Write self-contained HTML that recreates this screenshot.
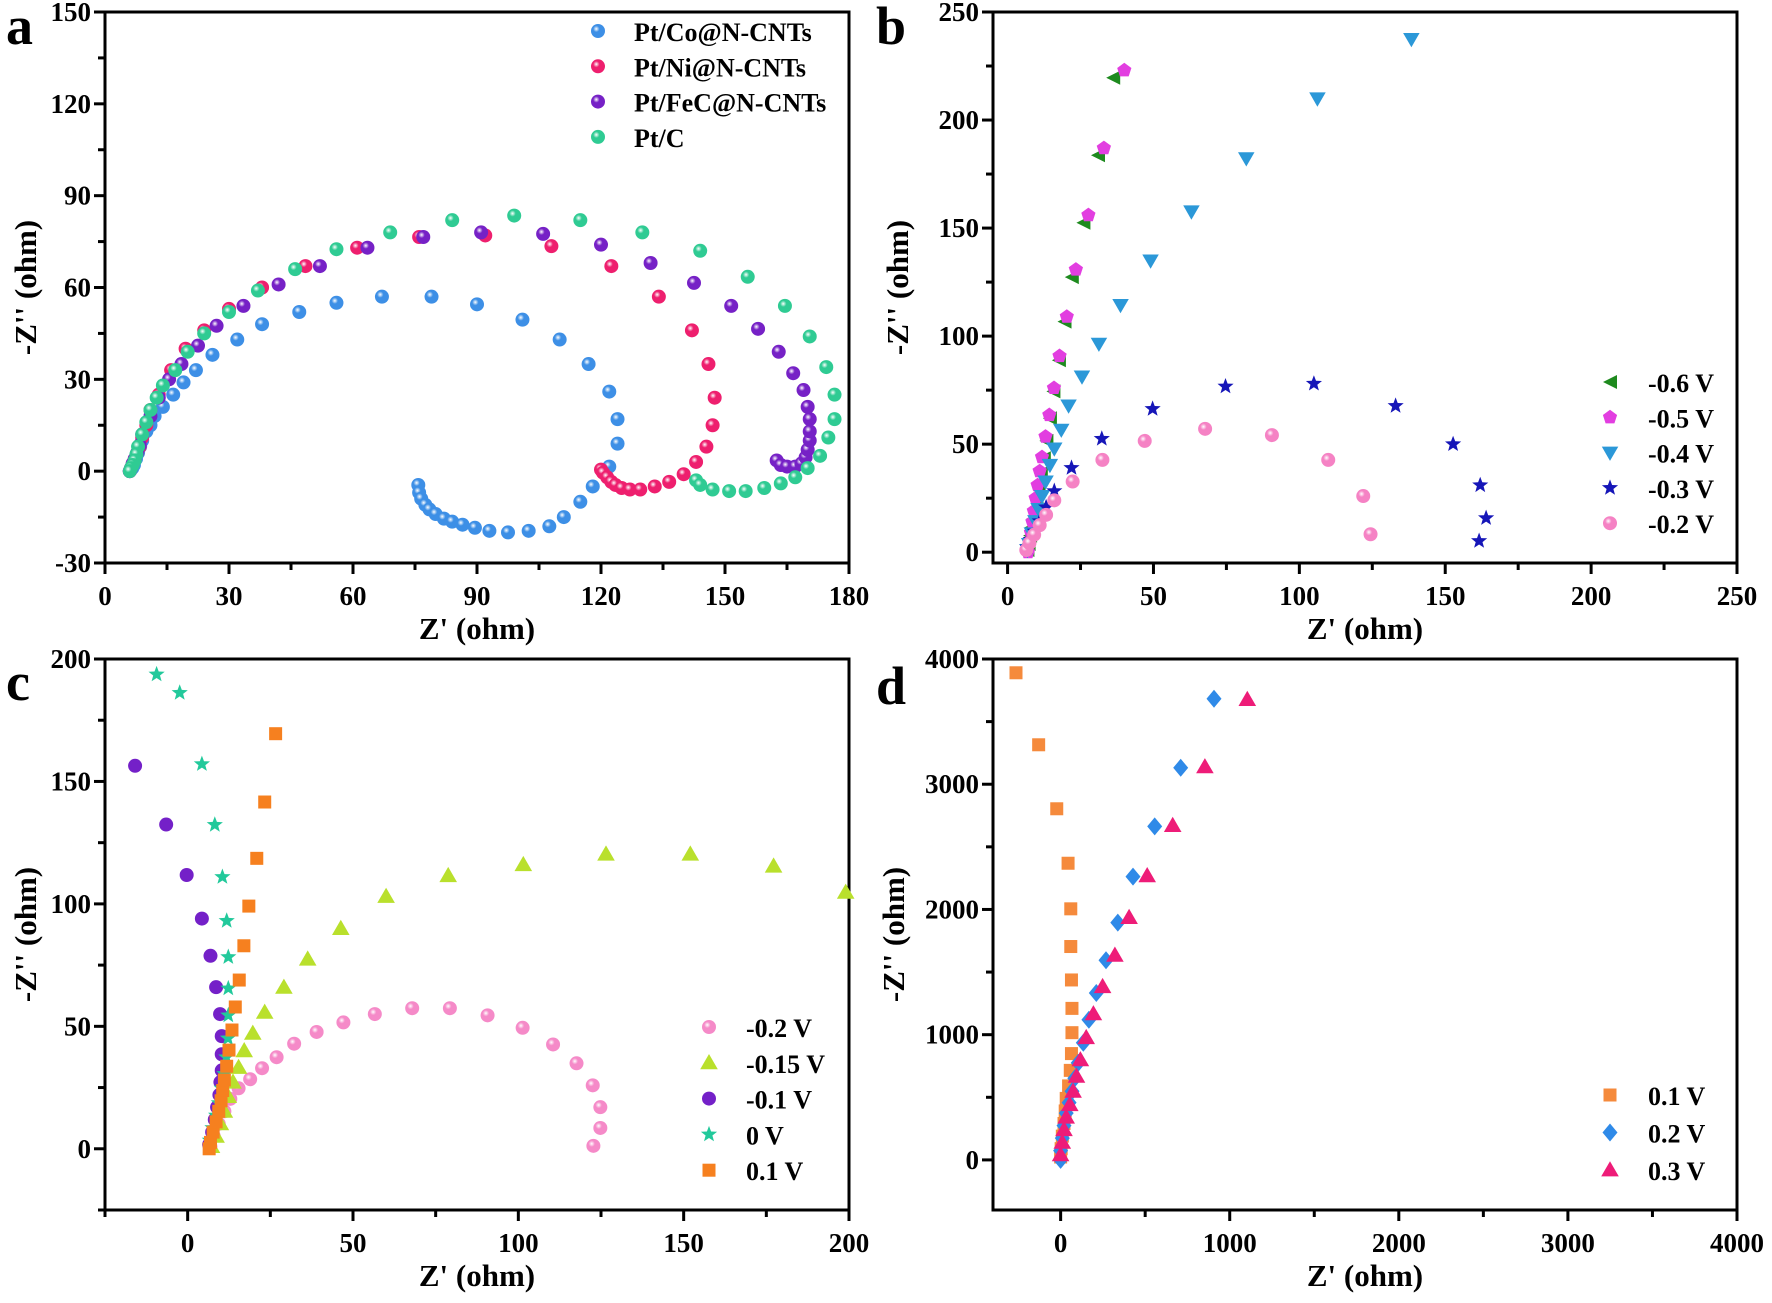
<!DOCTYPE html>
<html><head><meta charset="utf-8">
<style>
html,body{margin:0;padding:0;background:#fff;}
svg{display:block;font-family:"Liberation Serif",serif;font-weight:bold;}
</style></head>
<body>
<svg id="fig" width="1772" height="1303" viewBox="0 0 1772 1303" xmlns="http://www.w3.org/2000/svg">
<defs>
</defs>
</svg>
<script>
// ---------- Panel a data ----------
const aCoX=[6,6.3,6.6,7,7.5,8,8.5,9,10,11,12,14,16.5,19,22,26,32,38,47,56,67,79,90,101,110,117,122,124,124,122,118,115,111,107.5,102.5,97.5,93,89.5,86.5,84,82,80,78.5,77.5,76.5,76,75.8];
const aCoY=[0,0.5,1,2,4,6,8,10,13,15,18,21,25,29,33,38,43,48,52,55,57,57,54.5,49.5,43,35,26,17,9,1.5,-5,-10,-15,-18,-19.5,-20,-19.5,-18.5,-17.5,-16.5,-15.5,-14,-12.5,-11,-9,-7,-4.5];
const aNiX=[6,6.3,6.7,7.2,7.8,8.4,9,10,11,13,16,19.5,24,30,38,48.5,61,76,92,108,122.5,134,142,146,147.5,147,145.5,143,140,136.5,133,129.5,127,125,123.5,122.5,121.5,120.5,120];
const aNiY=[0,1,2.5,4,6,8,11,15,20,25,33,40,46,53,60,67,73,76.5,77,73.5,67,57,46,35,24,15,8,3,-1,-3.5,-5,-6,-6,-5.5,-4.5,-3.5,-2,-0.5,0.5];
const aFeX=[6,6.3,6.7,7.2,7.8,8.4,9,11,13,15.5,18.5,22.5,27,33.5,42,52,63.5,77,91,106,120,132,142.5,151.5,158,163,166.5,169,170,170.5,170.5,170.5,170,169.5,168.5,167,165,163.5,162.5];
const aFeY=[0,1,2.5,4,6,8.5,12,18,24,30,35,41,47.5,54,61,67,73,76.5,78,77.5,74,68,61.5,54,46.5,39,32,26.5,21,17,13,10,7,4.5,2.5,1.5,1.5,2,3.5];
const aPtX=[6,6.3,6.7,7.2,7.6,8,9,10,11,12.5,14,17,20,24,30,37,46,56,69,84,99,115,130,144,155.5,164.5,170.5,174.5,176.5,176.5,175,173,170,167,163.5,159.5,155,151,147,144,143];
const aPtY=[0,1,2,3.5,5.5,8,12,16,20,24,28,33,39,45,52,59,66,72.5,78,82,83.5,82,78,72,63.5,54,44,34,25,17,11,5,1,-2,-4,-5.5,-6.5,-6.5,-6,-4.5,-3];
const aXTicks=[0,30,60,90,120,150,180];
const aYTicks=[-30,0,30,60,90,120,150];
// ---------- Panel b data ----------
const b6X=[36.2,31,26,22,19.5,17.6,15.7,14.5,13.3,12.4,11.4,10.6,9.9,9.1,8.7,8.3,7.7,7.2,6.8];
const b6Y=[219.6,183.7,152.5,127.3,106.7,88.8,74.4,62,51.5,43.5,36.5,30.8,25,20,15.4,11.5,7.7,3.8,1];
const b5X=[40,33,27.7,23.4,20.3,17.8,15.9,14.3,13,11.8,11,10.3,9.6,9,8.5,8,7.5,7];
const b5Y=[223,187,156,130.8,109,90.8,76,63.5,53.5,44,37.5,31,25,19,14,9,4.5,0];
const b4X=[138.4,106.2,81.8,63,49,38.7,31.3,25.5,20.9,18.4,16,14.5,13,11.8,10.6,9.5,8.3,7.4,6.8];
const b4Y=[237.5,210,182.3,157.7,135,114.4,96.5,81.3,67.9,56.7,48,40.4,32.7,26,20,14.4,8.7,3.8,1];
const b3X=[161.6,164,162,152.7,133,105,74.7,49.7,32.3,21.9,16,13.2,11,9.3,7.9,6.8];
const b3Y=[5.2,15.8,31,50,67.7,78,76.7,66.3,52.5,39,28.3,20.8,14.4,9.6,5.8,2.3];
const b2X=[124.4,121.9,109.9,90.6,67.7,47,32.5,22.3,16,13.2,11,9.1,7.5,6.4];
const b2Y=[8.3,26,42.7,54.2,57.1,51.5,42.7,32.7,24,17.3,12.5,8.1,4.2,1];
const bXTicks=[0,50,100,150,200,250];
const bYTicks=[0,50,100,150,200,250];
// ---------- Panel c data ----------
const c02X=[122.7,124.8,124.8,122.5,117.6,110.5,101.3,90.7,79.3,67.9,56.6,47.1,39,32.2,26.9,22.5,18.9,15.4,12.9,11.1,9.4,7.9,6.9];
const c02Y=[1.2,8.5,17,25.9,34.9,42.6,49.4,54.5,57.4,57.4,55,51.6,47.7,42.9,37.4,32.9,28.4,24.7,20.4,15.3,10.2,5.1,0.9];
const c015X=[199,177.2,152,126.5,101.5,78.8,60,46.3,36.3,29.1,23.3,19.7,17.1,15.4,13.7,12.3,11.1,9.9,8.6,7.2];
const c015Y=[104.7,115.4,120.3,120.3,116,111.5,103,89.9,77.4,65.9,55.7,47.1,40,33.2,27.2,21.3,15.3,10.2,5.1,0.9];
const c01X=[-15.9,-6.5,-0.3,4.3,6.9,8.6,9.8,10.3,10.3,10.3,9.9,9.6,8.9,8.2,7.4,6.5];
const c01Y=[156.4,132.4,111.8,94,78.8,66,55,46,38.6,32,27.2,22,17,11.9,6.8,1.7];
const c0X=[-9.4,-2.4,4.3,8.2,10.5,11.8,12.3,12.3,12.3,12.2,11.7,11.1,10.3,9.4,8.6,7.5,6.7];
const c0Y=[193.7,186.2,157.1,132.3,111,93.1,78.3,65.5,54.5,45.1,37.4,30.6,24.7,18.7,13.6,8.5,3.4];
const cp1X=[26.6,23.3,20.9,18.5,17,15.6,14.4,13.4,12.5,11.8,11.1,10.6,10.1,9.4,8.6,7.7,6.9,6.5];
const cp1Y=[169.5,141.6,118.6,99.1,82.9,68.9,57.9,48.5,40.3,33.7,28.1,23.8,19.6,15.3,11,6.8,2.6,0];
const cXTicks=[0,50,100,150,200];
const cYTicks=[0,50,100,150,200];
// ---------- Panel d data ----------
const d1X=[-264,-130,-23,44,60,60,64,67,67,64,57,47,33,27,20,10,3,0];
const d1Y=[3890,3315,2804,2369,2005,1704,1437,1210,1016,849,715,591,491,391,291,190,90,23];
const d2X=[907,710,556,428,338,268,211,167,134,104,84,67,50,33,20,10,0,0];
const d2Y=[3682,3131,2663,2262,1895,1594,1333,1119,936,775,652,548,458,374,274,174,74,0];
const d3X=[1104,853,663,512,405,321,248,194,151,117,94,74,54,33,20,10,0];
const d3Y=[3676,3138,2670,2269,1935,1634,1383,1166,976,799,668,548,441,341,241,140,40];
const dXTicks=[0,1000,2000,3000,4000];
const dYTicks=[0,1000,2000,3000,4000];

const NS="http://www.w3.org/2000/svg";
const svg=document.getElementById('fig');
const defs=svg.querySelector('defs');
function mk(tag,attrs,parent){const e=document.createElementNS(NS,tag);for(const k in attrs)e.setAttribute(k,attrs[k]);(parent||svg).appendChild(e);return e;}
const gradCache={};
function sphere(color){
  if(gradCache[color])return gradCache[color];
  const id='g'+color.slice(1);
  const g=mk('radialGradient',{id:id,cx:'0.38',cy:'0.35',r:'0.65'},defs);
  mk('stop',{offset:'0',  'stop-color':'#ffffff'},g);
  mk('stop',{offset:'0.35','stop-color':color},g);
  mk('stop',{offset:'1','stop-color':color},g);
  gradCache[color]='url(#'+id+')';return gradCache[color];
}
function marker(g,shape,x,y,color,s){
  s=s||7;let e;
  if(shape==='sphere'){e=mk('circle',{cx:x,cy:y,r:s,fill:sphere(color)},g);}
  else if(shape==='circle'){e=mk('circle',{cx:x,cy:y,r:s,fill:color},g);}
  else if(shape==='square'){e=mk('rect',{x:x-s,y:y-s,width:2*s,height:2*s,fill:color},g);}
  else {
    let pts=[];
    if(shape==='ltri')pts=[[-s,0],[s,-s],[s,s]];
    else if(shape==='dtri')pts=[[-s*1.1,-s*0.8],[s*1.1,-s*0.8],[0,s*1.1]];
    else if(shape==='utri')pts=[[-s*1.1,s*0.8],[s*1.1,s*0.8],[0,-s*1.1]];
    else if(shape==='diamond')pts=[[0,-s*1.2],[s,0],[0,s*1.2],[-s,0]];
    else if(shape==='pent'){for(let i=0;i<5;i++){const a=-Math.PI/2+i*2*Math.PI/5;pts.push([s*Math.cos(a),s*Math.sin(a)]);}}
    else if(shape==='star'){for(let i=0;i<10;i++){const a=-Math.PI/2+i*Math.PI/5;const r=i%2?s*0.42:s;pts.push([r*Math.cos(a),r*Math.sin(a)]);}}
    e=mk('polygon',{points:pts.map(p=>(x+p[0]).toFixed(1)+','+(y+p[1]).toFixed(1)).join(' '),fill:color},g);
  }
  return e;
}
function panel(cfg){
  const g=mk('g',{});
  
  
  const L=cfg.box[0],T=cfg.box[1],R=cfg.box[2],B=cfg.box[3];
  const sx=v=>L+(v-cfg.xr[0])/(cfg.xr[1]-cfg.xr[0])*(R-L);
  const sy=v=>B-(v-cfg.yr[0])/(cfg.yr[1]-cfg.yr[0])*(B-T);
  const tg=mk('g',{stroke:'#000','stroke-width':3},g);
  const xt=cfg.xt,yt=cfg.yt;
  const xstep=xt[1]-xt[0],ystep=yt[1]-yt[0];
  for(let v=xt[0]-xstep/2;v<=cfg.xr[1]+1e-9;v+=xstep/2){
    if(v<cfg.xr[0]-1e-9)continue;
    const major=xt.some(t=>Math.abs(t-v)<1e-6);
    mk('line',{x1:sx(v),x2:sx(v),y1:B,y2:B+(major?11:7)},tg);
  }
  for(let v=yt[0]-ystep/2;v<=cfg.yr[1]+1e-9;v+=ystep/2){
    if(v<cfg.yr[0]-1e-9)continue;
    const major=yt.some(t=>Math.abs(t-v)<1e-6);
    mk('line',{y1:sy(v),y2:sy(v),x1:L,x2:L-(major?11:7)},tg);
  }
  xt.forEach(v=>{const t=mk('text',{x:sx(v),y:B+42,'font-size':27,'text-anchor':'middle'},g);t.textContent=v;
    
    });
  yt.forEach(v=>{const t=mk('text',{x:L-14,y:sy(v)+9,'font-size':27,'text-anchor':'end'},g);t.textContent=v;
    
    });
  const frame=mk('rect',{x:L,y:T,width:R-L,height:B-T,fill:'none',stroke:'#000','stroke-width':3},g);
  
  
  cfg.series.forEach(s=>{
    const sg=mk('g',{},g);
    
    
    for(let i=s.x.length-1;i>=0;i--){
      const m=marker(sg,s.shape,sx(s.x[i]),sy(s.y[i]),s.color,s.size);
      
      
    }
  });
  const lg=mk('g',{},g);
  
  
  cfg.series.forEach((s,i)=>{
    const y=cfg.leg[1]+i*cfg.leg[3];
    const e=mk('g',{},lg);
    
    
    marker(e,s.shape,cfg.leg[0],y,s.color,s.size);
    const t=mk('text',{x:cfg.leg[2],y:y+10,'font-size':26},e);t.textContent=s.label;
  });
  const xtitle=mk('text',{x:(L+R)/2,y:B+76,'font-size':31,'text-anchor':'middle'},g);
  xtitle.textContent="Z' (ohm)";
  
  
  const cy=(T+B)/2, cx=cfg.ytx;
  const ytitle=mk('text',{x:cx,y:cy,'font-size':31,'text-anchor':'middle',transform:'rotate(-90 '+cx+' '+cy+')'},g);
  ytitle.textContent="-Z'' (ohm)";
  
  
  const pl=mk('text',{x:cfg.lab[0],y:cfg.lab[1],'font-size':54},g);
  pl.textContent=cfg.letter;
  
  
}
panel({name:'panel-a',letter:'a',lab:[6,44],box:[105,12,849,563],xr:[0,180],yr:[-30,150],xt:aXTicks,yt:aYTicks,ytx:36,
  leg:[598,31,634,35.3],
  series:[
    {label:'Pt/Co@N-CNTs',x:aCoX,y:aCoY,shape:'sphere',color:'#3d8fe6',size:7},
    {label:'Pt/Ni@N-CNTs',x:aNiX,y:aNiY,shape:'sphere',color:'#ee1f6e',size:7},
    {label:'Pt/FeC@N-CNTs',x:aFeX,y:aFeY,shape:'sphere',color:'#7621c6',size:7},
    {label:'Pt/C',x:aPtX,y:aPtY,shape:'sphere',color:'#2fcb93',size:7}]});
panel({name:'panel-b',letter:'b',lab:[876,44],box:[993,12,1737,563],xr:[-5,250],yr:[-5,250],xt:bXTicks,yt:bYTicks,ytx:908,
  leg:[1610,382,1648,35.3],
  series:[
    {label:'-0.6 V',x:b6X,y:b6Y,shape:'ltri',color:'#1e8a1e',size:7},
    {label:'-0.5 V',x:b5X,y:b5Y,shape:'pent',color:'#e23ee0',size:7.5},
    {label:'-0.4 V',x:b4X,y:b4Y,shape:'dtri',color:'#2b98d8',size:7.5},
    {label:'-0.3 V',x:b3X,y:b3Y,shape:'star',color:'#1616b8',size:8.5},
    {label:'-0.2 V',x:b2X,y:b2Y,shape:'sphere',color:'#f582c4',size:7}]});
panel({name:'panel-c',letter:'c',lab:[6,700],box:[105,659,849,1210],xr:[-25,200],yr:[-25,200],xt:cXTicks,yt:cYTicks,ytx:36,
  leg:[709,1027,746,35.8],
  series:[
    {label:'-0.2 V',x:c02X,y:c02Y,shape:'sphere',color:'#f58ac8',size:7},
    {label:'-0.15 V',x:c015X,y:c015Y,shape:'utri',color:'#b9e02c',size:8},
    {label:'-0.1 V',x:c01X,y:c01Y,shape:'circle',color:'#7420c8',size:7},
    {label:'0 V',x:c0X,y:c0Y,shape:'star',color:'#22c99b',size:8.5},
    {label:'0.1 V',x:cp1X,y:cp1Y,shape:'square',color:'#f6801f',size:6.5}]});
panel({name:'panel-d',letter:'d',lab:[876,704],box:[993,659,1737,1210],xr:[-400,4000],yr:[-400,4000],xt:dXTicks,yt:dYTicks,ytx:904,
  leg:[1610,1095,1648,37.5],
  series:[
    {label:'0.1 V',x:d1X,y:d1Y,shape:'square',color:'#f58a3c',size:6.5},
    {label:'0.2 V',x:d2X,y:d2Y,shape:'diamond',color:'#2f8ae8',size:7.5},
    {label:'0.3 V',x:d3X,y:d3Y,shape:'utri',color:'#ee1c78',size:8}]});
</script>
</body></html>
